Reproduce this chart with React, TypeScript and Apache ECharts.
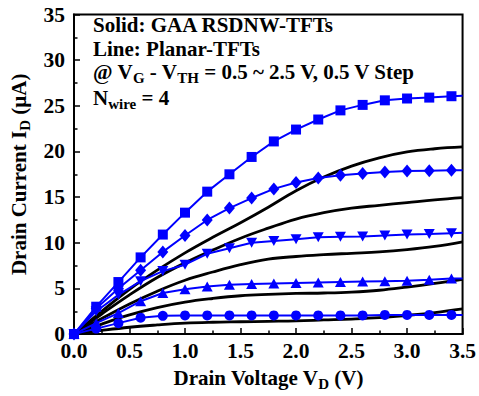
import React, { useEffect, useRef } from "react";
import * as echarts from "echarts";

const vdMarkers = [0, 0.2, 0.4, 0.6, 0.8, 1.0, 1.2, 1.4, 1.6, 1.8, 2.0, 2.2, 2.4, 2.6, 2.8, 3.0, 3.2, 3.4, 3.5];
const gaaSquare = [0, 3.0, 5.7, 8.4, 10.9, 13.3, 15.6, 17.5, 19.4, 21.1, 22.4, 23.5, 24.5, 25.1, 25.6, 25.8, 25.9, 26.05, 26.1];
const gaaDiamond = [0, 2.8, 5.0, 7.0, 9.0, 10.8, 12.5, 13.8, 14.9, 15.9, 16.6, 17.1, 17.4, 17.6, 17.75, 17.85, 17.9, 17.95, 17.95];
const gaaDown = [0, 2.5, 4.3, 5.8, 6.9, 7.6, 8.8, 9.4, 10.0, 10.2, 10.4, 10.6, 10.65, 10.7, 10.8, 10.9, 10.95, 11.05, 11.1];
const gaaUp = [0, 1.2, 2.3, 3.6, 4.5, 4.9, 5.2, 5.4, 5.5, 5.55, 5.6, 5.65, 5.7, 5.75, 5.8, 5.85, 5.95, 6.1, 6.1];
const gaaCircle = [0, 0.6, 1.2, 1.8, 2.0, 2.05, 2.05, 2.05, 2.05, 2.05, 2.05, 2.05, 2.05, 2.05, 2.1, 2.1, 2.1, 2.1, 2.1];

const vdLines = [0, 0.25, 0.5, 0.75, 1.0, 1.25, 1.5, 1.75, 2.0, 2.25, 2.5, 2.75, 3.0, 3.25, 3.5];
const planar1 = [0, 2.5, 4.9, 7.0, 8.9, 10.6, 12.2, 13.9, 15.7, 17.2, 18.4, 19.3, 19.95, 20.3, 20.5];
const planar2 = [0, 2.2, 4.3, 6.2, 7.8, 9.2, 10.5, 11.6, 12.6, 13.3, 13.8, 14.1, 14.4, 14.7, 14.95];
const planar3 = [0, 1.7, 3.3, 4.7, 5.9, 6.8, 7.6, 8.2, 8.5, 8.7, 8.85, 9.0, 9.25, 9.6, 10.1];
const planar4 = [0, 1.1, 2.1, 2.9, 3.5, 3.9, 4.2, 4.35, 4.45, 4.5, 4.6, 4.8, 5.15, 5.55, 6.0];
const planar5 = [0, 0.4, 0.75, 1.0, 1.2, 1.3, 1.35, 1.4, 1.45, 1.55, 1.65, 1.8, 2.05, 2.35, 2.75];

const annotationLines = [
  "{m|Solid: GAA RSDNW-TFTs}",
  "{m|Line: Planar-TFTs}",
  "{m|@ V}{s|G}{m| - V}{s|TH}{m| = 0.5 ~ 2.5 V, 0.5 V Step}",
  "{m|N}{s|wire}{m| = 4}",
];

const F = '"Liberation Serif", "Times New Roman", serif';
const BLUE = "#0000ff";

const richStyle = {
  m: { fontSize: 21, fontFamily: F, fontWeight: "bold", fill: "#000", color: "#000", lineHeight: 21, verticalAlign: "top" },
  s: { fontSize: 15, fontFamily: F, fontWeight: "bold", fill: "#000", color: "#000", padding: [9, 0, 0, 0], verticalAlign: "bottom" },
};

function markerSeries(values: number[], symbol: string, size: any, rotate = 0) {
  return {
    type: "line",
    data: values.map((v, i) =>
      i === values.length - 1 ? { value: [vdMarkers[i], v], symbol: "none" } : [vdMarkers[i], v]
    ),
    symbol,
    symbolSize: size,
    symbolRotate: rotate,
    showSymbol: true,
    lineStyle: { color: BLUE, width: 2 },
    itemStyle: { color: BLUE },
    z: 3,
  };
}

function planarSeries(values: number[]) {
  return {
    type: "line",
    data: values.map((v, i) => [vdLines[i], v]),
    smooth: 0.4,
    symbol: "none",
    lineStyle: { color: "#000", width: 2.8 },
    z: 2,
  };
}

export default function App() {
  const ref = useRef<HTMLDivElement>(null);
  useEffect(() => {
    if (!ref.current) return;
    const chart = echarts.init(ref.current, undefined, { renderer: "svg" });
    const tops = [14.5, 38.5, 61, 87];
    chart.setOption({
      animation: false,
      backgroundColor: "#fff",
      grid: { left: 71, right: 11, top: 14.5, bottom: 58, show: true, borderColor: "#000", borderWidth: 2, backgroundColor: "transparent" },
      xAxis: {
        type: "value",
        min: 0,
        max: 3.5,
        interval: 0.5,
        name: "{m|Drain Voltage V}{s|D}{m| (V)}",
        nameLocation: "middle",
        nameGap: 30,
        nameTextStyle: { rich: richStyle as any },
        axisLine: { show: true, lineStyle: { color: "#000", width: 2 } },
        axisTick: { show: true, inside: true, length: 6, lineStyle: { color: "#000", width: 1.5 } },
        minorTick: { show: true, splitNumber: 2, length: 3.5, lineStyle: { color: "#000", width: 1.5 } },
        splitLine: { show: false },
        axisLabel: { color: "#000", fontFamily: F, fontWeight: "bold", fontSize: 21.5, lineHeight: 16, margin: 9, formatter: (v: number) => v.toFixed(1) },
      },
      yAxis: {
        type: "value",
        min: 0,
        max: 35,
        interval: 5,
        name: "{m|Drain Current I}{s|D}{m| (µA)}",
        nameLocation: "middle",
        nameGap: 42,
        nameRotate: 90,
        nameTextStyle: { rich: richStyle as any },
        axisLine: { show: true, lineStyle: { color: "#000", width: 2 } },
        axisTick: { show: true, inside: true, length: 6, lineStyle: { color: "#000", width: 1.5 } },
        minorTick: { show: true, splitNumber: 2, length: 3.5, lineStyle: { color: "#000", width: 1.5 } },
        splitLine: { show: false },
        axisLabel: { color: "#000", fontFamily: F, fontWeight: "bold", fontSize: 21.5, lineHeight: 15, margin: 9 },
      },
      graphic: annotationLines.map((t, i) => ({
        type: "text",
        left: 93,
        top: tops[i],
        style: { text: t, rich: richStyle, fill: "#000" },
        z: 10,
      })),
      series: [
        planarSeries(planar1),
        planarSeries(planar2),
        planarSeries(planar3),
        planarSeries(planar4),
        planarSeries(planar5),
        markerSeries(gaaSquare, "rect", 10),
        markerSeries(gaaDiamond, "diamond", [11, 13]),
        markerSeries(gaaDown, "triangle", [11, 10], 180),
        markerSeries(gaaUp, "triangle", [11, 10]),
        markerSeries(gaaCircle, "circle", 10),
      ],
    });
    return () => chart.dispose();
  }, []);
  return <div ref={ref} style={{ position: "fixed", left: 0, top: 0, width: 479, height: 396 }} />;
}
